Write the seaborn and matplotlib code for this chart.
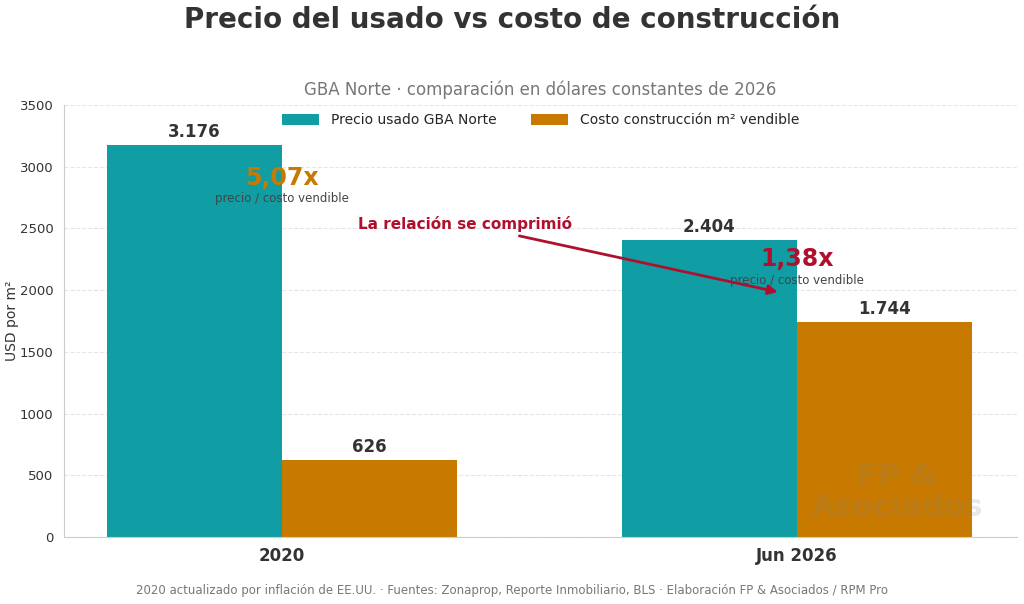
import numpy as np
import pandas as pd
import matplotlib
matplotlib.use("Agg")
import matplotlib.pyplot as plt
import seaborn as sns

sns.set_style("white")
plt.rcParams['font.family'] = ['DejaVu Sans']

# data
periodos = ["2020", "Jun 2026"]
series = ["Precio usado GBA Norte", "Costo construcción m² vendible"]
precio_usado = [3176, 2404]
costo_construccion = [626, 1744]
ratios = ["5,07x", "1,38x"]
yticks = [0, 500, 1000, 1500, 2000, 2500, 3000, 3500]

df = pd.DataFrame({
    "periodo": periodos * 2,
    "serie": [series[0]] * 2 + [series[1]] * 2,
    "valor": precio_usado + costo_construccion,
})

teal = "#119DA4"
naranja = "#C87A00"
rojo = "#B0102E"
palette = {series[0]: teal, series[1]: naranja}

fig, ax = plt.subplots(figsize=(10.24, 6.04), dpi=100)
fig.subplots_adjust(left=0.0625, right=0.993, top=0.826, bottom=0.111)

sns.barplot(data=df, x="periodo", y="valor", hue="serie", order=periodos,
            hue_order=series, palette=palette, width=0.68, gap=0,
            saturation=1, linewidth=0, ax=ax)

ax.set_xlim(-0.423, 1.427)
ax.set_ylim(0, 3500)
ax.set_yticks(yticks)
ax.tick_params(axis="y", labelsize=9.5, colors="#333333", length=4)
ax.tick_params(axis="x", labelsize=12, length=4, colors="#333333")
for lbl in ax.get_xticklabels():
    lbl.set_fontweight("bold")
    lbl.set_color("#333333")
ax.tick_params(axis="both", color="#999999")
ax.set_xlabel("")
ax.set_ylabel("USD por m²", fontsize=10, color="#333333")
ax.yaxis.set_label_coords(-0.047, 0.5)
ax.yaxis.grid(True, linestyle="--", color="#e6e6e6", linewidth=0.8)
ax.set_axisbelow(True)
for s in ["top", "right"]:
    ax.spines[s].set_visible(False)
for s in ["left", "bottom"]:
    ax.spines[s].set_color("#cccccc")

# value labels
for cont in ax.containers:
    labels = [f"{int(v):,}".replace(",", ".") for v in cont.datavalues]
    ax.bar_label(cont, labels=labels, padding=3, fontsize=12,
                 fontweight="bold", color="#333333")

# ratio annotations
ax.text(0, 2909, ratios[0], ha="center", va="center", fontsize=17,
        fontweight="bold", color=naranja)
ax.text(0, 2746, "precio / costo vendible", ha="center", va="center",
        fontsize=8.5, color="#444444")
ax.text(1, 2252, ratios[1], ha="center", va="center", fontsize=17,
        fontweight="bold", color=rojo)
ax.text(1, 2082, "precio / costo vendible", ha="center", va="center",
        fontsize=8.5, color="#444444")

ax.annotate("La relación se comprimió", xy=(0.963, 1985), xytext=(0.355, 2536),
            ha="center", va="center", fontsize=11, fontweight="bold", color=rojo,
            arrowprops=dict(arrowstyle="-|>", color=rojo, lw=2,
                            mutation_scale=14, shrinkA=2, shrinkB=0))

# watermark
ax.text(1.195, 365, "FP &\nAsociados", ha="center", va="center", fontsize=22,
        fontweight="bold", color="#808080", alpha=0.18, linespacing=1.1)

leg = ax.legend(loc="upper center", bbox_to_anchor=(0.5, 1.01), ncol=2,
                frameon=False, fontsize=10, handlelength=2.7, handleheight=0.9,
                columnspacing=2.5)

fig.suptitle("Precio del usado vs costo de construcción", fontsize=20,
             fontweight="bold", color="#333333", y=0.99)
ax.set_title("GBA Norte · comparación en dólares constantes de 2026",
             fontsize=12, color="#777777", pad=7)
fig.text(0.5, 0.022, "2020 actualizado por inflación de EE.UU. · Fuentes: Zonaprop, "
         "Reporte Inmobiliario, BLS · Elaboración FP & Asociados / RPM Pro",
         ha="center", va="center", fontsize=8.5, color="#777777")

fig.savefig("out.png", dpi=100)
